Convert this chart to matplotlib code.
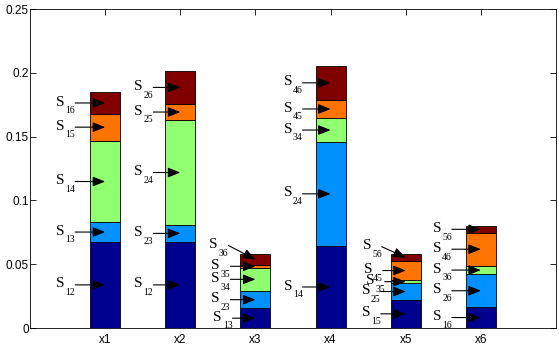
import matplotlib
matplotlib.use("Agg")
import matplotlib.pyplot as plt
import numpy as np

categories = ['x1', 'x2', 'x3', 'x4', 'x5', 'x6']
# stacked segment values, bottom to top, per category
seg1 = [0.0676, 0.0676, 0.0154, 0.0643, 0.0222, 0.0164]
seg2 = [0.0152, 0.0131, 0.0136, 0.0817, 0.0128, 0.0256]
seg3 = [0.0640, 0.0823, 0.0183, 0.0183, 0.0026, 0.0068]
seg4 = [0.0212, 0.0125, 0.0021, 0.0147, 0.0149, 0.0259]
seg5 = [0.0167, 0.0261, 0.0086, 0.0263, 0.0053, 0.0053]
# segment labels (subscript indices)
labels = [
    ['12', '13', '14', '15', '16'],
    ['12', '23', '24', '25', '26'],
    ['13', '23', '34', '35', '36'],
    ['14', '24', '34', '45', '46'],
    ['15', '25', '35', '45', '56'],
    ['16', '26', '36', '46', '56'],
]
yticks = [0, 0.05, 0.1, 0.15, 0.2, 0.25]
ytick_labels = ['0', '0.05', '0.1', '0.15', '0.2', '0.25']

colors = ['#00008F', '#0090FF', '#90FF70', '#FF7400', '#800000']

fig = plt.figure(figsize=(5.59, 3.53), dpi=100)
ax = fig.add_axes([0.0537, 0.0708, 0.9409, 0.9037])

segs = np.array([seg1, seg2, seg3, seg4, seg5])
x = np.arange(1, len(categories) + 1)
bottom = np.zeros(len(categories))
for k in range(segs.shape[0]):
    ax.bar(x, segs[k], 0.4, bottom=bottom, color=colors[k],
           edgecolor='black', linewidth=0.6, zorder=2)
    bottom = bottom + segs[k]

# arrow tail offsets (pixels) relative to the arrow tip, per category
tail_dx = [-30, -27, -25, -28, -25, -29]
special = {(2, 4): (-27, 14), (2, 0): (-23, 0),
           (4, 4): (-24, 11), (4, 3): (-23, 0), (4, 2): (-21, 0)}

cum = np.vstack([np.zeros(len(categories)), np.cumsum(segs, axis=0)])
for i in range(len(categories)):
    for k in range(segs.shape[0]):
        ymid = (cum[k, i] + cum[k + 1, i]) / 2
        dx, dy = special.get((i, k), (tail_dx[i], 0))
        tip = (x[i], ymid)
        ax.annotate('', xy=tip, xytext=(dx, dy), textcoords='offset pixels',
                    zorder=3,
                    arrowprops=dict(arrowstyle='-|>,head_length=0.75,head_width=0.3',
                                    mutation_scale=10, color='black', lw=0.8,
                                    shrinkA=0, shrinkB=0))
        ax.annotate('S', xy=tip, xytext=(dx - 10.5, dy - 2.6),
                    textcoords='offset pixels', ha='right', va='baseline',
                    fontsize=11, family='Liberation Serif', zorder=4)
        ax.annotate(labels[i][k], xy=tip, xytext=(dx, dy - 10.3),
                    textcoords='offset pixels', ha='right', va='baseline',
                    fontsize=7, family='Liberation Serif', zorder=4)

ax.set_xlim(0, 7)
ax.set_ylim(0, 0.25)
ax.set_xticks(x)
ax.set_xticklabels(categories, family='Liberation Sans', fontsize=8.5)
ax.set_yticks(yticks)
ax.set_yticklabels(ytick_labels, family='Liberation Sans', fontsize=8.5)
ax.tick_params(direction='in', top=True, right=True, length=4, width=0.6)
ax.tick_params(axis='y', pad=1)
ax.tick_params(axis='x', pad=4)
for s in ax.spines.values():
    s.set_linewidth(0.6)

fig.savefig('out.png', dpi=100)
